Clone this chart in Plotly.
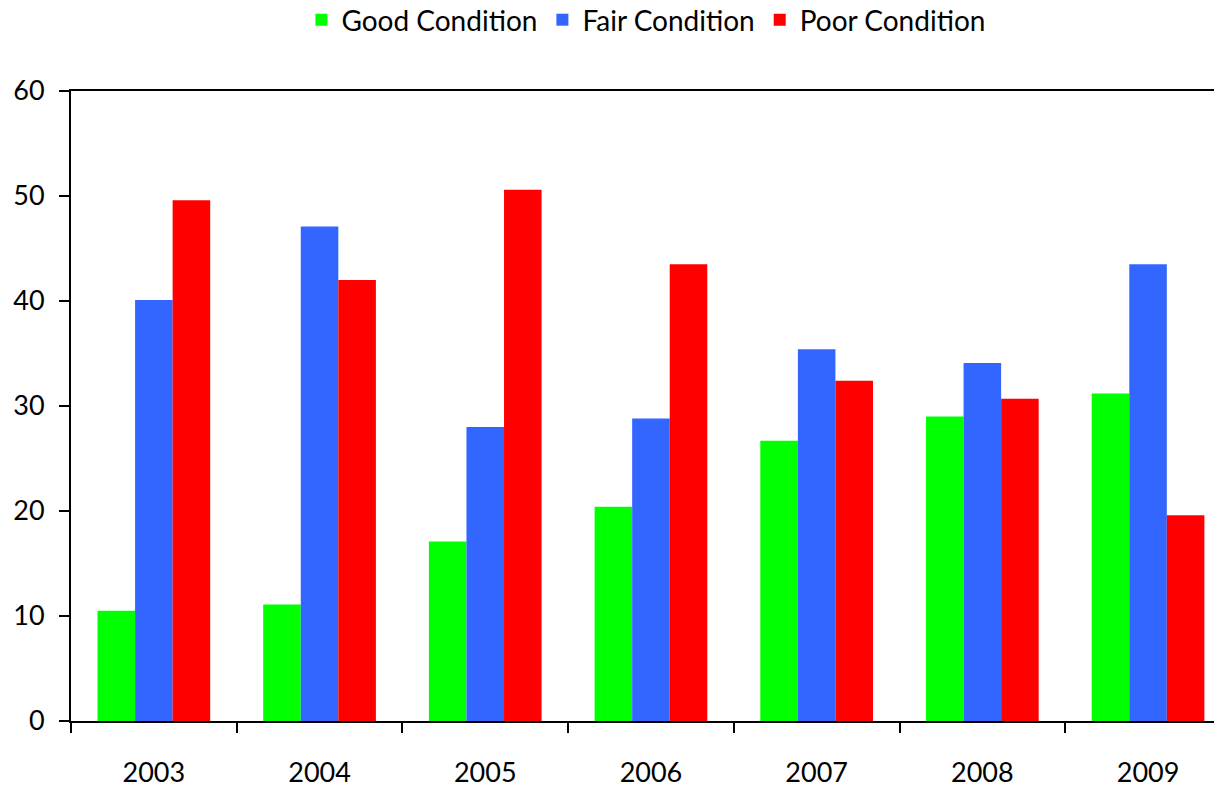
import plotly.graph_objects as go

years = ["2003", "2004", "2005", "2006", "2007", "2008", "2009"]
good = [10.5, 11.1, 17.1, 20.4, 26.7, 29.0, 31.2]
fair = [40.1, 47.1, 28.0, 28.8, 35.4, 34.1, 43.5]
poor = [49.6, 42.0, 50.6, 43.5, 32.4, 30.7, 19.6]

series = [
    ("Good Condition", good, "#00FF00"),
    ("Fair Condition", fair, "#3366FF"),
    ("Poor Condition", poor, "#FF0000"),
]

fig = go.Figure()
for name, vals, col in series:
    fig.add_trace(go.Bar(x=years, y=vals, name=name, marker=dict(color=col, line=dict(width=0))))

font = "Lato, 'Open Sans', sans-serif"
fig.update_layout(
    width=1214, height=788,
    margin=dict(l=71, r=0, t=91, b=67, autoexpand=False),
    plot_bgcolor="white", paper_bgcolor="white",
    barmode="group", bargap=0.32, bargroupgap=0,
    font=dict(family=font, size=27, color="black"),
    legend=dict(orientation="h", x=0.503, xanchor="center", y=1 + 71 / 630, yanchor="middle",
                font=dict(size=28), itemwidth=30, traceorder="normal"),
    showlegend=True,
)
fig.update_xaxes(
    type="category", range=[-0.5, -0.5 + 1143 / 165.7],
    showline=True, linecolor="black", linewidth=2, mirror=True,
    ticks="outside", ticklen=10, tickwidth=2, tickcolor="black",
    tickson="boundaries", showgrid=False, ticklabelstandoff=27,
)
fig.update_yaxes(
    range=[0, 60], dtick=10,
    showline=True, linecolor="black", linewidth=2,
    ticks="outside", ticklen=10, tickwidth=2, tickcolor="black",
    showgrid=False, zeroline=False, ticklabelstandoff=9,
)

fig.write_html("out.html", config={"displayModeBar": False},
               post_script="document.body.style.margin='0';document.body.style.overflow='hidden';")
